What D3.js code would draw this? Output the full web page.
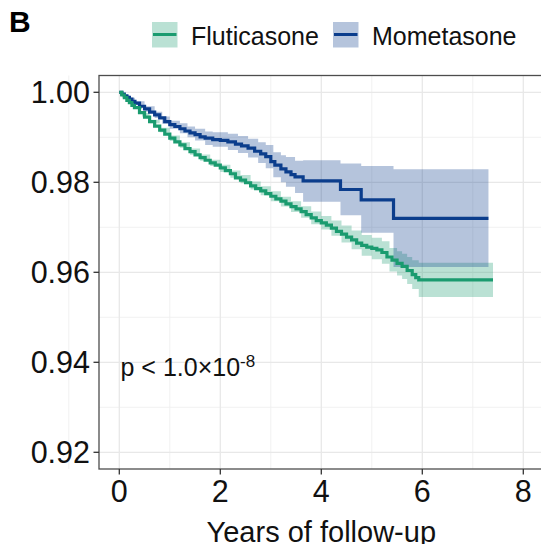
<!DOCTYPE html>
<html>
<head>
<meta charset="utf-8">
<script src="https://cdn.jsdelivr.net/npm/d3@7"></script>
<style>
  body { margin: 0; background: #fff; }
  text { font-family: "Liberation Sans", Arial, sans-serif; }
</style>
</head>
<body>
<div class="canvas"></div>
<script>
// Fluticasone KM estimate
const flutTime = [0, 0.05, 0.1, 0.15, 0.2, 0.25, 0.3, 0.4, 0.5, 0.6, 0.7, 0.8, 0.9, 1.0, 1.1, 1.2, 1.3, 1.4, 1.5, 1.6, 1.7, 1.8, 1.9, 2.0,
    2.1, 2.2, 2.3, 2.4, 2.5, 2.6, 2.7, 2.8, 2.9, 3.0, 3.1, 3.2, 3.3, 3.4, 3.5, 3.6, 3.7, 3.8, 3.9, 4.0, 4.1, 4.2, 4.3, 4.4, 4.5,
    4.6, 4.7, 4.8, 4.9, 5.0, 5.1, 5.2, 5.3, 5.4, 5.5, 5.6, 5.7, 5.8, 5.87, 5.93, 7.4];
const flutSurv = [1.0, 0.9994, 0.9988, 0.9982, 0.9977, 0.9971, 0.9966, 0.9955, 0.9945, 0.9935, 0.9925, 0.9916, 0.9907, 0.9898, 0.9890,
    0.9883, 0.9875, 0.9868, 0.9861, 0.9855, 0.9849, 0.9843, 0.9838, 0.9832, 0.9826, 0.9819, 0.9810, 0.9805, 0.9799, 0.9792, 0.9786,
    0.9781, 0.9775, 0.9769, 0.9763, 0.9758, 0.9752, 0.9746, 0.9741, 0.9735, 0.9728, 0.9721, 0.9715, 0.9710, 0.9705, 0.9698, 0.9691,
    0.9685, 0.9678, 0.9672, 0.9665, 0.9660, 0.9656, 0.9653, 0.9650, 0.9644, 0.9634, 0.9627, 0.9620, 0.9613, 0.9604, 0.9595, 0.9588,
    0.9583, 0.9583];
// Fluticasone 95% band
const flutBandTime = [0, 0.1, 0.2, 0.3, 0.45, 0.6, 0.8, 1.0, 1.2, 1.4, 1.6, 1.8, 2.0, 2.2, 2.4, 2.6, 2.8, 3.0, 3.2, 3.4, 3.6, 3.8, 4.0, 4.2, 4.4, 4.6, 4.8, 5.0, 5.2, 5.35, 5.5, 5.6, 5.7, 5.8, 5.93, 7.4];
const flutLower = [1.0, 0.9986, 0.9974, 0.9963, 0.9946, 0.9931, 0.9911, 0.9892, 0.9877, 0.9861, 0.9848, 0.9836, 0.9823, 0.9810, 0.9798, 0.9784, 0.9771, 0.9758, 0.9746, 0.9734, 0.9721, 0.9707, 0.9695, 0.9681, 0.9666, 0.9651, 0.9637, 0.9629, 0.9619, 0.9602, 0.9593, 0.9585, 0.9574, 0.9563, 0.9545, 0.9545];
const flutUpper = [1.0, 0.9990, 0.9980, 0.9969, 0.9954, 0.9939, 0.9921, 0.9904, 0.9889, 0.9875, 0.9862, 0.9850, 0.9839, 0.9826, 0.9816, 0.9802, 0.9791, 0.9780, 0.9768, 0.9758, 0.9747, 0.9735, 0.9725, 0.9715, 0.9704, 0.9693, 0.9683, 0.9677, 0.9669, 0.9654, 0.9647, 0.9641, 0.9634, 0.9627, 0.9621, 0.9621];

// Mometasone KM estimate
const momeTime = [0, 0.05, 0.1, 0.15, 0.2, 0.25, 0.31, 0.4, 0.5, 0.6, 0.7, 0.8, 0.9, 1.0, 1.1, 1.2, 1.3, 1.4, 1.5, 1.6, 1.7, 1.85,
    2.0, 2.15, 2.3, 2.42, 2.55, 2.68, 2.8, 2.9, 3.0, 3.08, 3.2, 3.3, 3.4, 3.48, 3.64, 4.38, 4.79, 5.43, 7.31];
const momeSurv = [1.0, 0.9996, 0.9992, 0.9989, 0.9985, 0.9980, 0.9976, 0.9969, 0.9963, 0.9956, 0.9950, 0.9943, 0.9935, 0.9928, 0.9924,
    0.9919, 0.9914, 0.9910, 0.9906, 0.9901, 0.9898, 0.9895, 0.9893, 0.9890, 0.9885, 0.9881, 0.9876, 0.9869, 0.9863, 0.9857, 0.9846,
    0.9838, 0.9830, 0.9823, 0.9817, 0.9812, 0.9803, 0.9784, 0.9761, 0.9720, 0.9720];
// Mometasone 95% band
const momeBandTime = [0, 0.1, 0.2, 0.31, 0.5, 0.7, 0.85, 1.0, 1.2, 1.35, 1.5, 1.7, 1.85, 2.15, 2.35, 2.55, 2.75, 2.9, 3.05, 3.2, 3.3, 3.48, 3.64, 4.38, 4.79, 5.43, 7.31];
const momeLower = [1.0, 0.9990, 0.9982, 0.9972, 0.9957, 0.9943, 0.9930, 0.9919, 0.9909, 0.9900, 0.9893, 0.9883, 0.9879, 0.9872, 0.9865, 0.9855, 0.9843, 0.9831, 0.9811, 0.9800, 0.9790, 0.9776, 0.9757, 0.9727, 0.9688, 0.9612, 0.9612];
const momeUpper = [1.0, 0.9994, 0.9988, 0.9980, 0.9969, 0.9957, 0.9946, 0.9937, 0.9931, 0.9924, 0.9919, 0.9913, 0.9911, 0.9908, 0.9903, 0.9897, 0.9889, 0.9883, 0.9867, 0.9860, 0.9856, 0.9848, 0.9849, 0.9842, 0.9836, 0.9829, 0.9829];

const groups = ['Fluticasone', 'Mometasone'];
const xTicks = [0, 2, 4, 6, 8];
const yTicks = [0.92, 0.94, 0.96, 0.98, 1.00];

const dims = { width: 541, height: 544 };
const panel = { left: 99, top: 75.5, right: 545, bottom: 469 };

const lineColor = { Fluticasone: '#1a9b6f', Mometasone: '#0b3d8c' };

const svg = d3.select('.canvas')
    .append('svg')
    .attr('width', dims.width)
    .attr('height', dims.height);

const x = d3.scaleLinear().domain([0, 8]).range([119.3, 523.3]);
const y = d3.scaleLinear().domain([0.92, 1.00]).range([452.3, 92.3]);

// gridlines
const grid = svg.append('g');
const minorX = [-1, 1, 3, 5, 7, 9];
const minorY = [0.93, 0.95, 0.97, 0.99];
grid.selectAll('.vminor').data(minorX).enter().append('line')
    .attr('x1', d => x(d)).attr('x2', d => x(d))
    .attr('y1', panel.top).attr('y2', panel.bottom)
    .attr('stroke', '#f0f0f0').attr('stroke-width', 0.9);
grid.selectAll('.hminor').data(minorY).enter().append('line')
    .attr('x1', panel.left).attr('x2', panel.right)
    .attr('y1', d => y(d)).attr('y2', d => y(d))
    .attr('stroke', '#f0f0f0').attr('stroke-width', 0.9);
grid.selectAll('.vmajor').data(xTicks).enter().append('line')
    .attr('x1', d => x(d)).attr('x2', d => x(d))
    .attr('y1', panel.top).attr('y2', panel.bottom)
    .attr('stroke', '#e8e8e8').attr('stroke-width', 1.3);
grid.selectAll('.hmajor').data(yTicks).enter().append('line')
    .attr('x1', panel.left).attr('x2', panel.right)
    .attr('y1', d => y(d)).attr('y2', d => y(d))
    .attr('stroke', '#e8e8e8').attr('stroke-width', 1.3);

// build series
const series = [
    { name: 'Fluticasone', time: flutTime, surv: flutSurv, bandTime: flutBandTime, lower: flutLower, upper: flutUpper },
    { name: 'Mometasone', time: momeTime, surv: momeSurv, bandTime: momeBandTime, lower: momeLower, upper: momeUpper }
].map(s => ({
    name: s.name,
    pts: s.time.map((t, i) => ({ t, s: s.surv[i] })),
    band: s.bandTime.map((t, i) => ({ t, lo: s.lower[i], hi: s.upper[i] }))
}));

const band = d3.area()
    .curve(d3.curveStepAfter)
    .x(d => x(d.t))
    .y0(d => y(d.lo))
    .y1(d => y(d.hi));

const line = d3.line()
    .curve(d3.curveStepAfter)
    .x(d => x(d.t))
    .y(d => y(d.s));

const graph = svg.append('g');

graph.selectAll('.band').data(series).enter().append('path')
    .attr('d', d => band(d.band))
    .attr('fill', d => lineColor[d.name])
    .attr('fill-opacity', 0.3);

graph.selectAll('.km').data(series.slice().reverse()).enter().append('path')
    .attr('d', d => line(d.pts))
    .attr('fill', 'none')
    .attr('stroke', d => lineColor[d.name])
    .attr('stroke-width', 3.2);

// panel border
svg.append('rect')
    .attr('x', panel.left).attr('y', panel.top)
    .attr('width', panel.right - panel.left).attr('height', panel.bottom - panel.top)
    .attr('fill', 'none')
    .attr('stroke', '#4d4d4d')
    .attr('stroke-width', 1.3);

// axes
const yAxis = svg.append('g');
yAxis.selectAll('line').data(yTicks).enter().append('line')
    .attr('x1', panel.left - 5.5).attr('x2', panel.left)
    .attr('y1', d => y(d)).attr('y2', d => y(d))
    .attr('stroke', '#333').attr('stroke-width', 1.3);
yAxis.selectAll('text').data(yTicks).enter().append('text')
    .attr('x', panel.left - 9)
    .attr('y', d => y(d))
    .attr('dy', '0.36em')
    .attr('text-anchor', 'end')
    .attr('font-size', 30.5)
    .attr('fill', '#111')
    .text(d => d3.format('.2f')(d));

const xAxis = svg.append('g');
xAxis.selectAll('line').data(xTicks).enter().append('line')
    .attr('x1', d => x(d)).attr('x2', d => x(d))
    .attr('y1', panel.bottom).attr('y2', panel.bottom + 5.5)
    .attr('stroke', '#333').attr('stroke-width', 1.3);
xAxis.selectAll('text').data(xTicks).enter().append('text')
    .attr('x', d => x(d))
    .attr('y', 501.5)
    .attr('text-anchor', 'middle')
    .attr('font-size', 30.5)
    .attr('fill', '#111')
    .text(d => d);

svg.append('text')
    .attr('x', (119.3 + 523.3) / 2)
    .attr('y', 542)
    .attr('text-anchor', 'middle')
    .attr('font-size', 29)
    .attr('fill', '#111')
    .text('Years of follow-up');

// p-value
const pText = svg.append('text')
    .attr('x', 120.5)
    .attr('y', 376)
    .attr('font-size', 25)
    .attr('fill', '#111');
pText.append('tspan').text('p < 1.0×10');
pText.append('tspan').attr('dy', -9).attr('font-size', 17).text('-8');

// panel tag
svg.append('text')
    .attr('x', 9)
    .attr('y', 31.5)
    .attr('font-size', 30)
    .attr('font-weight', 'bold')
    .attr('fill', '#000')
    .text('B');

// legend
const legendPos = [{ kx: 152, tx: 191 }, { kx: 333, tx: 372 }];
const legend = svg.append('g');
const items = legend.selectAll('g').data(groups).enter().append('g')
    .attr('transform', (d, i) => `translate(${legendPos[i].kx}, 22)`);
items.append('rect')
    .attr('width', 25.5).attr('height', 25.5)
    .attr('fill', d => lineColor[d])
    .attr('fill-opacity', 0.3);
items.append('line')
    .attr('x1', 1).attr('x2', 24.5)
    .attr('y1', 12.5).attr('y2', 12.5)
    .attr('stroke', d => lineColor[d])
    .attr('stroke-width', 3);
items.append('text')
    .attr('x', (d, i) => legendPos[i].tx - legendPos[i].kx)
    .attr('y', 22.5)
    .attr('font-size', 25)
    .attr('fill', '#111')
    .text(d => d);
</script>
</body>
</html>
